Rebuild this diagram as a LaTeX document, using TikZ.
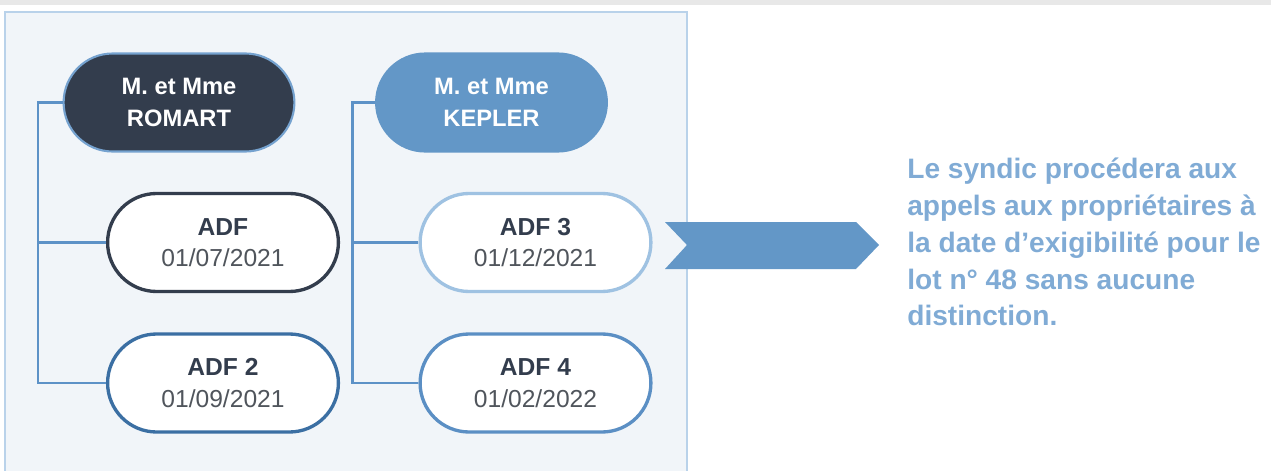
\documentclass[tikz,border=0pt]{standalone}
\usepackage{fontspec}
\setmainfont{Liberation Sans}
\usepackage{tikz}
\usetikzlibrary{positioning, shapes.misc, calc}
\definecolor{BandGray}{HTML}{E8E8E8}
\definecolor{PanelFill}{HTML}{F1F5F9}
\definecolor{PanelEdge}{HTML}{B9D2EA}
\definecolor{OwnerDark}{HTML}{333D4D}
\definecolor{OwnerBlue}{HTML}{6397C7}
\definecolor{LinkBlue}{HTML}{5D92C7}
\definecolor{CallMid}{HTML}{3B6FA3}
\definecolor{CallLight}{HTML}{9FC2E2}
\definecolor{CallSoft}{HTML}{5B8FC4}
\definecolor{DateGray}{HTML}{50555C}
\definecolor{NoteBlue}{HTML}{80ABD5}

\begin{document}
\begin{tikzpicture}[
    owner/.style={rounded rectangle, draw=#1, line width=1.2pt, fill=#1, text=white,
                  minimum width=4.85cm, minimum height=1.96cm, align=center,
                  font=\fontsize{13.5}{18}\selectfont\bfseries},
    call/.style={rounded rectangle, draw=#1, line width=1.9pt, fill=white, text=DateGray,
                 minimum width=4.85cm, minimum height=1.96cm, align=center,
                 font=\fontsize{14}{18}\selectfont},
    conn/.style={LinkBlue, line width=1.5pt},
    note/.style={text=NoteBlue, align=left, inner sep=0pt,
                 font=\fontsize{16}{21}\selectfont\bfseries}
]
  \useasboundingbox (0,0) rectangle (25.42,9.4);
  % Background
  \fill[BandGray] (0,9.3) rectangle (25.42,9.4);
  \draw[PanelEdge, fill=PanelFill, line width=0.8pt] (0.1,-0.3) rectangle (13.74,9.16);
  % Owners
  \node[owner=OwnerDark, draw=LinkBlue!85] (romart) at (3.58,7.35) {M. et Mme\\ROMART};
  \node[owner=OwnerBlue] (kepler) at (9.83,7.35) {M. et Mme\\KEPLER};
  % Calls for funds
  \node[call=OwnerDark] (adf1) at (4.46,4.55) {{\bfseries\color{OwnerDark}ADF}\\01/07/2021};
  \node[call=CallMid] (adf2) at (4.46,1.74) {{\bfseries\color{OwnerDark}ADF 2}\\01/09/2021};
  \node[call=CallLight] (adf3) at (10.71,4.55) {{\bfseries\color{OwnerDark}ADF 3}\\01/12/2021};
  \node[call=CallSoft] (adf4) at (10.71,1.74) {{\bfseries\color{OwnerDark}ADF 4}\\01/02/2022};
  % Tree links
  \coordinate (lspine) at (0.76,7.35);
  \coordinate (rspine) at (7.05,7.35);
  \draw[conn] (romart.west) -- (lspine) |- (adf2.west);
  \draw[conn] (lspine |- adf1.west) -- (adf1.west);
  \draw[conn] (kepler.west) -- (rspine) |- (adf4.west);
  \draw[conn] (rspine |- adf3.west) -- (adf3.west);
  % Chevron
  \fill[OwnerBlue] (13.3,4.96) -- (13.74,4.5) -- (13.3,4.02) -- (17.12,4.02)
    -- (17.58,4.5) -- (17.12,4.96) -- cycle;
  % Note
  \node[note, anchor=west] (txt) at (18.14,4.56) {Le syndic procédera aux\\appels aux propriétaires à\\la date d’exigibilité pour le\\lot n° 48 sans aucune\\distinction.};
\end{tikzpicture}
\end{document}
